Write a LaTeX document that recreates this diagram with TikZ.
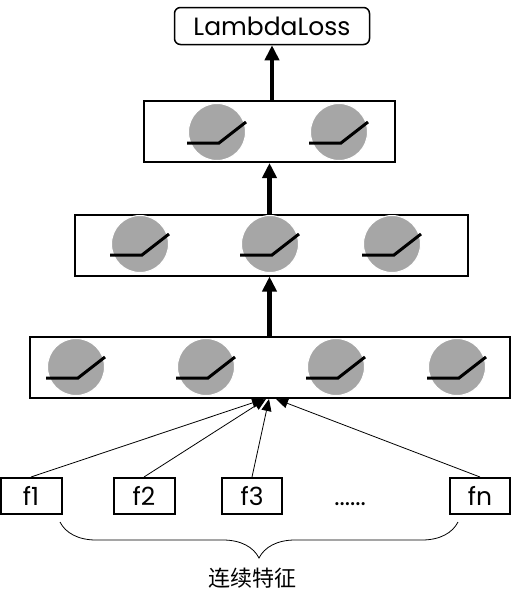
\documentclass[tikz,border=0pt]{standalone}
\usepackage{fontspec}
\setmainfont{Poppins}
\newfontfamily\cjk{Noto Sans CJK SC}
\usepackage{tikz}
\usetikzlibrary{arrows.meta,positioning,calc,decorations.pathreplacing}
\definecolor{neurongray}{HTML}{A6A6A6}

\begin{document}
\begin{tikzpicture}[x=1pt,y=-1pt,font=\fontsize{25}{28}\selectfont,
  layer/.style={draw,line width=2pt,minimum height=61pt,inner sep=0pt},
  neuron/.style={circle,fill=neurongray,draw=white,line width=1pt,minimum size=57pt,inner sep=0pt},
  ramp/.style={line width=3pt},
  feat/.style={draw,line width=2pt,minimum width=61pt,minimum height=36pt,inner sep=0pt},
  up/.style={-{Triangle[width=14pt,length=15pt]},line width=4.5pt},
  inp/.style={-{Triangle[width=10pt,length=12pt]},line width=0.8pt}]
  \useasboundingbox (0,0) rectangle (511,605);
  \node[draw,line width=1.5pt,rounded corners=6pt,minimum width=195pt,minimum height=37pt,inner sep=0pt] (loss) at (272,26) {LambdaLoss};
  % hidden layers
  \node[layer,minimum width=251pt] (l3) at (269.5,131.5) {};
  \node[layer,minimum width=393pt] (l2) at (271.5,245) {};
  \node[layer,minimum width=480pt] (l1) at (270,367.5) {};
  \foreach \x/\y/\n in {217/132/c1,339/132/c2,140/244/b1,270/244/b2,392/244/b3,76/367/a1,206/367/a2,336/367/a3,457/367/a4} {
    \node[neuron] (\n) at (\x,\y) {};
    \draw[ramp] ($(\n)+(-30,11)$) -- ++(32,0) -- ++(27,-21);
  }
  \draw[up] (l3.north -| loss.south) -- (loss.south);
  \draw[up] (l2.north -| l3.south) -- (l3.south);
  \draw[up] (l1.north -| l3.south) -- (l3.south |- l2.south);
  % inputs
  \node[feat] (f1) at (31,496) {f1};
  \node[feat] (f2) at (144,496) {f2};
  \node[feat,minimum width=60pt] (f3) at (252,496) {f3};
  \node[feat,minimum width=60pt] (fn) at (480,496) {fn};
  \node[anchor=base] (dots) at (350,505) {......};
  \draw[inp] (f1.north) -- ([xshift=-6pt]l1.south);
  \draw[inp] (f2.north) -- ([xshift=-4pt]l1.south);
  \draw[inp] (f3.north) -- ([xshift=-1pt]l1.south);
  \draw[inp] (fn.north) -- ([xshift=6pt]l1.south);
  \coordinate (bl) at (60,522);
  \coordinate (br) at (458,522);
  \draw[line width=0.8pt,decorate,decoration={brace,amplitude=36pt,aspect=0.5}] (br) -- (bl);
  \node[font=\cjk\fontsize{22}{26}\selectfont] (feats) at (252,578) {连续特征};
\end{tikzpicture}
\end{document}
